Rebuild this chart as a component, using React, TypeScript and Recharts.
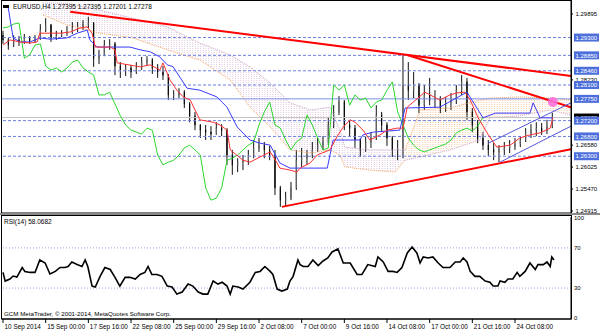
import React from "react";
import { Area, Bar, ComposedChart, Line, ReferenceDot, ReferenceLine, XAxis, YAxis } from "recharts";

const FONT = "'Liberation Sans', Arial, sans-serif";

// time axis: one label every 8 bars (8h bars)
const timeLabels = [
  "10 Sep 2014", "15 Sep 00:00", "17 Sep 16:00", "22 Sep 08:00", "25 Sep 00:00", "29 Sep 16:00",
  "2 Oct 08:00", "7 Oct 00:00", "9 Oct 16:00", "14 Oct 08:00", "17 Oct 00:00", "21 Oct 16:00", "24 Oct 08:00"
];
const timeBars = [0, 8, 16, 24, 32, 40, 48, 56, 64, 72, 80, 88, 96];

const firstOpen = 1.2936;
const highs = [
  1.2947, 1.2929, 1.2936, 1.2934, 1.2939, 1.2934, 1.2936, 1.2964, 1.2979, 1.2964,
  1.2947, 1.2949, 1.2959, 1.2969, 1.2969, 1.2974, 1.2982, 1.2969, 1.2899, 1.2924,
  1.2926, 1.2919, 1.2868, 1.2863, 1.2861, 1.2868, 1.2881, 1.2883, 1.2878, 1.2863,
  1.2858, 1.2838, 1.2797, 1.2802, 1.2797, 1.2767, 1.2742, 1.2711, 1.2709, 1.2706,
  1.2716, 1.2711, 1.2701, 1.2646, 1.2625, 1.2633, 1.2646, 1.2671, 1.2676, 1.2666,
  1.2656, 1.2646, 1.2555, 1.254, 1.2565, 1.2646, 1.2651, 1.2646, 1.2666, 1.2676,
  1.2681, 1.2727, 1.2759, 1.2782, 1.2772, 1.2722, 1.2709, 1.2676, 1.2681, 1.2691,
  1.2759, 1.2742, 1.2716, 1.2681, 1.2671, 1.2886, 1.2868, 1.2843, 1.2815, 1.281,
  1.2828, 1.2797, 1.2782, 1.278, 1.279, 1.281, 1.2835, 1.2828, 1.2752, 1.2722,
  1.2691, 1.2671, 1.2663, 1.2658, 1.2666, 1.2671, 1.2676, 1.2681, 1.2701, 1.2711,
  1.2716, 1.2714, 1.2722, 1.274
];
const lows = [
  1.2914, 1.2899, 1.2906, 1.2909, 1.2914, 1.2914, 1.2916, 1.2924, 1.2944, 1.2919,
  1.2924, 1.2931, 1.2934, 1.2939, 1.2944, 1.2949, 1.2954, 1.2856, 1.2863, 1.2883,
  1.2899, 1.2835, 1.2828, 1.2833, 1.2828, 1.2838, 1.2848, 1.2858, 1.2838, 1.2828,
  1.2823, 1.2772, 1.2772, 1.2777, 1.2752, 1.2716, 1.2696, 1.2676, 1.2671, 1.2671,
  1.2684, 1.2681, 1.2608, 1.2583, 1.259, 1.2595, 1.2608, 1.2625, 1.2641, 1.2625,
  1.262, 1.2532, 1.2502, 1.2504, 1.2519, 1.2545, 1.2603, 1.2608, 1.2625, 1.2641,
  1.2646, 1.2658, 1.2701, 1.2734, 1.2696, 1.2681, 1.2651, 1.2628, 1.2641, 1.2651,
  1.2671, 1.2691, 1.2656, 1.2628, 1.262, 1.2625, 1.2772, 1.2777, 1.2739, 1.2747,
  1.2759, 1.2752, 1.2739, 1.2742, 1.2747, 1.2762, 1.2785, 1.2722, 1.2691, 1.2663,
  1.2646, 1.2631, 1.262, 1.2615, 1.2633, 1.2638, 1.2646, 1.2653, 1.2666, 1.2676,
  1.2681, 1.2684, 1.2686, 1.2701
];
const closes = [
  1.2924, 1.2911, 1.2924, 1.2919, 1.2929, 1.2921, 1.2926, 1.2949, 1.2962, 1.2929,
  1.2936, 1.2941, 1.2944, 1.2954, 1.2957, 1.2964, 1.2967, 1.2878, 1.2886, 1.2911,
  1.2914, 1.2858, 1.2848, 1.2853, 1.2843, 1.2853, 1.2868, 1.2873, 1.2853, 1.2843,
  1.2835, 1.2785, 1.2785, 1.2792, 1.2762, 1.2732, 1.2709, 1.2696, 1.2691, 1.2686,
  1.2701, 1.2696, 1.2633, 1.2608, 1.2615, 1.262, 1.2633, 1.2651, 1.2658, 1.2646,
  1.2633, 1.255, 1.2519, 1.2524, 1.255, 1.262, 1.2625, 1.2633, 1.2646, 1.2658,
  1.2666, 1.2709, 1.2742, 1.2767, 1.2709, 1.2701, 1.2671, 1.2646, 1.2666, 1.2676,
  1.2734, 1.2709, 1.2676, 1.2646, 1.2651, 1.281, 1.2797, 1.281, 1.2759, 1.2785,
  1.2772, 1.2777, 1.2752, 1.2767, 1.2772, 1.2797, 1.2818, 1.2742, 1.2709, 1.2676,
  1.2658, 1.2646, 1.2641, 1.2646, 1.2651, 1.2656, 1.2661, 1.2671, 1.2689, 1.2696,
  1.2701, 1.2694, 1.2706, 1.2728
];

// Ichimoku lines: [bar, price]
const tenkan: [number, number][] = [
  [0, 1.2911], [1.3, 1.2924], [3.2, 1.2919], [5.1, 1.2916], [6.4, 1.2919], [6.9, 1.2941], [10.7, 1.2941],
  [12.6, 1.2944], [14.4, 1.2954], [15.8, 1.2957], [16.7, 1.2941], [17.3, 1.2906], [20.1, 1.2906], [21, 1.2899],
  [21.4, 1.2866], [25.7, 1.2856], [27.6, 1.2861], [29.4, 1.2848], [30, 1.2866], [31.3, 1.2823], [32.6, 1.2797],
  [33.8, 1.278], [35.1, 1.2772], [36.9, 1.2722], [39.4, 1.2716], [40.7, 1.2709], [42, 1.2696], [42.6, 1.2646],
  [45, 1.262], [46.3, 1.2615], [48.2, 1.2628], [50.1, 1.2641], [51.4, 1.2613], [51.9, 1.26], [53.8, 1.2595],
  [55.1, 1.259], [55.7, 1.26], [57.6, 1.2613], [58.9, 1.2633], [61.3, 1.2646], [62.6, 1.2679], [63.8, 1.2704],
  [65.1, 1.2722], [66, 1.2716], [67.5, 1.2696], [68.8, 1.2671], [70.7, 1.2684], [72, 1.2696], [73.9, 1.2701],
  [75, 1.2701], [75.8, 1.2754], [79.1, 1.2792], [80.1, 1.2785], [81.9, 1.2772], [83.8, 1.2785], [85.1, 1.279],
  [86.6, 1.2792], [87.6, 1.2772], [89.1, 1.2727], [91, 1.2684], [92.6, 1.2653], [95.1, 1.2658], [96.9, 1.2676],
  [98.8, 1.2684], [100.7, 1.2689], [102.6, 1.2701], [103.1, 1.2727]
];
const kijun: [number, number][] = [
  [0.9, 1.3012], [1.9, 1.2929], [3.2, 1.2919], [5.1, 1.2919], [6.9, 1.2929], [8.8, 1.2926], [12, 1.2929],
  [13.9, 1.2941], [15.8, 1.2949], [16.3, 1.2924], [17.6, 1.2906], [23.8, 1.2906], [25.7, 1.2899], [27.6, 1.2894],
  [29.4, 1.2881], [30.8, 1.2861], [31.9, 1.2856], [34.5, 1.2802], [36.9, 1.2797], [40.1, 1.278], [42, 1.2754],
  [43.9, 1.2704], [46.3, 1.2671], [48.2, 1.2663], [50.1, 1.2658], [51.9, 1.2613], [53.8, 1.26], [60.8, 1.26],
  [61.9, 1.2671], [66.9, 1.2671], [67.5, 1.2684], [69.4, 1.2691], [74.4, 1.2696], [75.4, 1.2752], [81.9, 1.2754],
  [87, 1.2792], [90, 1.2727], [92.3, 1.2739], [98.8, 1.2739], [99.4, 1.2765], [100.7, 1.2727], [103.1, 1.2727]
];
// cloud envelope: [bar, top, bottom]
const kumo: [number, number, number][] = [
  [7.5, 1.3017, 1.2987], [12, 1.3017, 1.2962], [18.2, 1.2999, 1.2941], [24.4, 1.2979, 1.2929],
  [30.8, 1.2957, 1.2899], [36.9, 1.2916, 1.2873], [42.6, 1.2886, 1.2823], [46.3, 1.2856, 1.2754],
  [50.1, 1.2815, 1.2704], [53.8, 1.2765, 1.2646], [57.6, 1.2747, 1.2638], [61.3, 1.2754, 1.2646],
  [63.2, 1.2696, 1.2633], [64.1, 1.2653, 1.2603], [68.8, 1.2646, 1.2595], [73.5, 1.2646, 1.259],
  [75.4, 1.2646, 1.262], [78.2, 1.2747, 1.2628], [83.8, 1.2752, 1.2646], [89.4, 1.2772, 1.2671],
  [91.3, 1.2777, 1.2727], [96.9, 1.278, 1.2732], [102.6, 1.2777, 1.2747], [106.5, 1.2772, 1.2734]
];
const kumoSwitch = 75.4;
const chikouShift = 13;

const rsi: [number, number][] = [
  [0, 45.6], [0.4, 37], [1.3, 39], [1.9, 42], [2.6, 41], [3.6, 50.5], [4.1, 46.6], [5.1, 45.6], [6, 45.6],
  [6.9, 58], [7.9, 55], [8.8, 44], [9.8, 46.6], [10.7, 50.5], [11.6, 50.5], [12.2, 51.5], [12.9, 56], [13.9, 53.4],
  [14.8, 51.5], [15.4, 58], [15.9, 51.5], [16.7, 32], [17.3, 31], [18.2, 41.7], [19.1, 50.5], [20.1, 48.5],
  [21, 40.7], [21.9, 32], [22.9, 40.7], [23.8, 40.7], [24.8, 39], [25.7, 43.6], [26.6, 45.6], [27.2, 51.5],
  [27.9, 43.6], [28.9, 43.6], [29.8, 41.7], [30.8, 32], [31.7, 31], [32.6, 24], [33.6, 26], [34.7, 34], [35.6, 32],
  [36.6, 26], [37.5, 24], [38.4, 24], [39.4, 37], [40.3, 34], [41.1, 35.8], [42, 32], [42.6, 24], [43.1, 32],
  [44.1, 31], [45, 29], [46.3, 35.8], [47.3, 45.6], [48.2, 46.6], [49.1, 51.5], [50.1, 46.6], [50.6, 43.6],
  [51.4, 29], [52.3, 27], [53.3, 29], [53.8, 37], [54.4, 41.7], [55.3, 58], [55.7, 53.4], [56.3, 51.5],
  [57.2, 51.5], [58.1, 58], [59.1, 52.4], [60, 57], [60.9, 60], [61.7, 66], [62.8, 69], [63.8, 55], [65.1, 55],
  [66.4, 43.6], [67.3, 43.6], [68.4, 53.4], [69.8, 51.5], [70.3, 61], [71.3, 56], [72.2, 46.6], [73.1, 46.6],
  [73.9, 45.6], [74.8, 50.5], [75.8, 65], [76.7, 71], [77.6, 65], [78.2, 55], [78.8, 61], [79.7, 60], [80.6, 61],
  [81.6, 55], [82.5, 50.5], [83.8, 50.5], [84.8, 56], [85.7, 56], [86.3, 60], [87, 56], [87.6, 46.6], [88.5, 41.7],
  [89.4, 41.7], [90.4, 37], [91.3, 35.8], [91.9, 32], [92.8, 32], [93.2, 37], [94.1, 35.8], [94.7, 39], [95.6, 39],
  [96.4, 45.6], [96.9, 41.7], [97.9, 46.6], [98.8, 55], [99.8, 48.5], [100.3, 53.4], [101.3, 53.4], [102, 56],
  [102.6, 51.5], [102.9, 61], [103.3, 58]
];

const dashedLevels = [1.293, 1.2885, 1.2846, 1.281, 1.272, 1.268, 1.263];
const solidLevel = 1.2775;
const lastPrice = 1.27278;
const plainPriceTicks = [1.29895, 1.2823, 1.2658, 1.26025, 1.2547, 1.24915];
const rsiLevels = [30, 70];
const rsiBounds = [0, 100];

const trendLines: [number, number][][] = [
  [[12.6, 1.2995], [106.5, 1.2833]],
  [[75.8, 1.2886], [106.5, 1.2754]],
  [[52.3, 1.2502], [106.5, 1.2648]]
];
const channelLines: [number, number][][] = [
  [[91, 1.2663], [106.5, 1.2765]],
  [[93.2, 1.2615], [106.5, 1.2706]]
];
const touchPoint = { k: 103.1, price: 1.2767 };

const xDomain = [-0.19, 106.5];
const priceDomain = [1.24865, 1.30224];
const rsiDomain = [-0.8, 100.8];

const candles = closes.map((close, k) => ({
  k,
  open: k === 0 ? firstOpen : closes[k - 1],
  high: highs[k],
  low: lows[k],
  close,
  range: [lows[k], highs[k]]
}));
const pts = (arr: [number, number][]) => arr.map(([k, v]) => ({ k, v }));
const chikou = closes.slice(chikouShift).map((v, i) => ({ k: i, v }));
const kumoRed = kumo.filter((d) => d[0] <= kumoSwitch).map(([k, t, b]) => ({ k, r: [b, t], t, b }));
const kumoUp = kumo.filter((d) => d[0] >= kumoSwitch).map(([k, t, b]) => ({ k, r: [b, t], t, b }));
const boxedLevels = [...dashedLevels, solidLevel];
const priceAxisTicks = [lastPrice, ...plainPriceTicks, solidLevel, ...dashedLevels];

function Candle(props: any) {
  const { x, y, width, height, payload } = props;
  if (x == null || y == null || height == null) return null;
  const top = Math.min(y, y + height);
  const h = Math.abs(height);
  const { open, close, high, low } = payload;
  const ppu = high - low > 0 ? h / (high - low) : 0;
  const yO = top + (high - open) * ppu;
  const yC = top + (high - close) * ppu;
  const cx = x + width / 2;
  const up = close >= open;
  return (
    <g>
      <line x1={cx} x2={cx} y1={top} y2={top + h} stroke="#111" strokeWidth={1} />
      <rect
        x={x}
        y={Math.min(yO, yC)}
        width={width}
        height={Math.max(1, Math.abs(yC - yO))}
        fill={up ? "#b4b4b4" : "#000"}
        stroke={up ? "#555" : "#000"}
        strokeWidth={0.6}
      />
    </g>
  );
}

function PriceTick(props: any) {
  const { x, y, payload } = props;
  const v = Number(payload.value);
  const label = v.toFixed(5);
  if (v === lastPrice || boxedLevels.includes(v)) {
    return (
      <g>
        <rect x={x + 1} y={y - 4} width={25} height={8} fill={v === lastPrice ? "#000" : "#4d6fdc"} />
        <text x={x + 2.5} y={y + 2.2} fontSize={6} fill="#fff" fontFamily={FONT}>{label}</text>
      </g>
    );
  }
  return (
    <g>
      <line x1={x - 2} x2={x} y1={y} y2={y} stroke="#000" />
      <text x={x + 2.5} y={y + 2.2} fontSize={6} fill="#000" fontFamily={FONT}>{label}</text>
    </g>
  );
}

function RsiTick(props: any) {
  const { x, y, payload } = props;
  return (
    <text x={x + 1} y={y + 2.2} fontSize={6} fill="#000" fontFamily={FONT}>{payload.value}</text>
  );
}

// label for the 0 / 100 bounds, placed in the axis gutter next to the line
function BoundLabel(props: any) {
  const { viewBox, text } = props;
  if (!viewBox) return null;
  return (
    <text x={viewBox.x + viewBox.width + 3} y={viewBox.y + 2.2} fontSize={6} fill="#000" fontFamily={FONT}>{text}</text>
  );
}

function TimeTick(props: any) {
  const { x, y, payload } = props;
  const i = timeBars.indexOf(Number(payload.value));
  return (
    <g>
      <line x1={x} x2={x} y1={y} y2={y + 4} stroke="#000" />
      <text x={x + 1.5} y={y + 9.5} fontSize={6.4} fill="#000" fontFamily={FONT}>{timeLabels[i]}</text>
    </g>
  );
}

export default function App() {
  return (
    <div style={{ position: "absolute", left: 0, top: 0, width: 600, height: 333, background: "#fff", overflow: "hidden" }}>
      <div style={{ position: "absolute", left: 0, top: 0 }}>
        <ComposedChart width={600} height={215} data={candles} margin={{ top: 1, right: 0, bottom: 2, left: 2 }}>
          <defs>
            <pattern id="thistleDots" width={2.67} height={2} patternUnits="userSpaceOnUse">
              <rect width={1} height={1} fill="#c9a0c9" />
            </pattern>
            <pattern id="sandyDots" width={2.67} height={2} patternUnits="userSpaceOnUse">
              <rect width={1} height={1} fill="#f4a460" />
            </pattern>
          </defs>
          <XAxis dataKey="k" type="number" domain={xDomain} allowDataOverflow hide />
          <YAxis
            orientation="right"
            width={29}
            domain={priceDomain}
            allowDataOverflow
            ticks={priceAxisTicks}
            interval={0}
            tick={<PriceTick />}
            tickLine={false}
            tickSize={2}
            tickMargin={0}
            axisLine={{ stroke: "#000" }}
          />
          <Area data={kumoRed} dataKey="r" fill="url(#thistleDots)" stroke="none" isAnimationActive={false} />
          <Area data={kumoUp} dataKey="r" fill="url(#sandyDots)" stroke="none" isAnimationActive={false} />
          <Line data={kumoRed} dataKey="t" stroke="#c9a0c9" strokeDasharray="1 1" dot={false} isAnimationActive={false} />
          <Line data={kumoRed} dataKey="b" stroke="#f4a460" strokeDasharray="1 1" dot={false} isAnimationActive={false} />
          <Line data={kumoUp} dataKey="t" stroke="#f4a460" strokeDasharray="1 1" dot={false} isAnimationActive={false} />
          <Line data={kumoUp} dataKey="b" stroke="#c9a0c9" strokeDasharray="1 1" dot={false} isAnimationActive={false} />
          {dashedLevels.map((lv) => (
            <ReferenceLine key={lv} y={lv} stroke="#6a7fe2" strokeDasharray="3 2" />
          ))}
          <ReferenceLine y={solidLevel} stroke="#7d8fe8" />
          <ReferenceLine y={lastPrice} stroke="#c4c4c4" />
          <Line data={chikou} dataKey="v" stroke="#2bd62b" strokeWidth={1} dot={false} isAnimationActive={false} />
          <Line data={pts(kijun)} dataKey="v" stroke="#3a3aff" strokeWidth={1} dot={false} isAnimationActive={false} />
          <Line data={pts(tenkan)} dataKey="v" stroke="#ff3030" strokeWidth={1} dot={false} isAnimationActive={false} />
          <Bar dataKey="range" barSize={3.5} shape={<Candle />} isAnimationActive={false} />
          {trendLines.map((seg, i) => (
            <Line key={`t${i}`} data={pts(seg)} dataKey="v" stroke="#ff0000" strokeWidth={2} dot={false} isAnimationActive={false} />
          ))}
          {channelLines.map((seg, i) => (
            <Line key={`c${i}`} data={pts(seg)} dataKey="v" stroke="#5656d6" strokeWidth={1} dot={false} isAnimationActive={false} />
          ))}
          <ReferenceDot x={touchPoint.k} y={touchPoint.price} r={5} fill="#ff70dc" stroke="none" fillOpacity={0.9} />
        </ComposedChart>
      </div>
      <div style={{ position: "absolute", left: 0, top: 215 }}>
        <ComposedChart width={600} height={118} data={pts(rsi)} margin={{ top: 2, right: 0, bottom: 0, left: 2 }}>
          <XAxis
            dataKey="k"
            type="number"
            domain={xDomain}
            allowDataOverflow
            ticks={timeBars}
            interval={0}
            height={14}
            tick={<TimeTick />}
            tickLine={false}
            tickSize={0}
            tickMargin={0}
            axisLine={{ stroke: "#000" }}
          />
          <YAxis
            orientation="right"
            width={29}
            domain={rsiDomain}
            allowDataOverflow
            ticks={rsiLevels}
            interval={0}
            tick={<RsiTick />}
            tickLine={false}
            tickSize={2}
            tickMargin={0}
            axisLine={{ stroke: "#000" }}
          />
          {rsiLevels.map((lv) => (
            <ReferenceLine key={lv} y={lv} stroke="#97a3e6" strokeDasharray="1 2" />
          ))}
          {rsiBounds.map((lv) => (
            <ReferenceLine key={`b${lv}`} y={lv} stroke="none" label={<BoundLabel text={String(lv)} />} />
          ))}
          <Line dataKey="v" stroke="#000" strokeWidth={1.6} dot={false} isAnimationActive={false} />
        </ComposedChart>
      </div>
      <svg width={600} height={333} style={{ position: "absolute", left: 0, top: 0, pointerEvents: "none" }}>
        <rect x={1.5} y={0.5} width={570} height={212.5} fill="none" stroke="#000" />
        <rect x={0} y={213} width={600} height={2} fill="#8a8a8a" />
        <rect x={1.5} y={215.5} width={570} height={103.5} fill="none" stroke="#000" />
        <rect x={3} y={5} width={6} height={3} fill="#000" />
        <text x={13} y={8.5} fontSize={6.5} fontFamily={FONT} fill="#000">
          EURUSD,H4  1.27395 1.27395 1.27201 1.27278
        </text>
        <text x={4} y={223.5} fontSize={6.5} fontFamily={FONT} fill="#000">RSI(14) 58.0682</text>
        <text x={4} y={315.5} fontSize={6.2} fontFamily={FONT} fill="#000">
          GCM MetaTrader, © 2001-2014, MetaQuotes Software Corp.
        </text>
      </svg>
    </div>
  );
}
